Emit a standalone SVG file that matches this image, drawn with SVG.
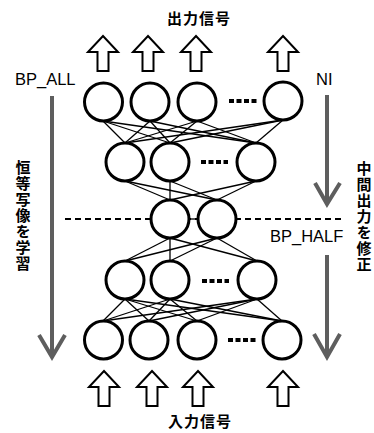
<svg xmlns="http://www.w3.org/2000/svg" xmlns:xlink="http://www.w3.org/1999/xlink" width="374" height="433" viewBox="0 0 374 433">
  <style>
    .node { fill: #fff; stroke: #000; stroke-width: 3; }
    .link { stroke: #000; stroke-width: 1.3; fill: none; }
    .dots { stroke: #000; stroke-width: 4; stroke-dasharray: 5 2.5; fill: none; }
    .io { fill: #fff; stroke: #000; stroke-width: 2; stroke-linejoin: miter; }
    .flow { stroke: #5e5e5e; stroke-width: 4; fill: none; }
    .half { stroke: #000; stroke-width: 2; stroke-dasharray: 6 4; fill: none; }
    .lbl { font-family: "Liberation Sans", Arial, sans-serif; font-size: 16.5px; fill: #000; }
    .jp { font-family: "Noto Sans CJK JP", sans-serif; font-weight: bold; font-size: 15px; fill: #000; }
    .vjp { font-family: "Noto Sans CJK JP", sans-serif; font-weight: bold; font-size: 15px; fill: #000; writing-mode: vertical-rl; letter-spacing: 1px; }
  </style>
  <defs>
    <!-- hollow block arrow, tip at origin, pointing up -->
    <path id="blk" class="io" d="M0,0 L15,16 L5.5,16 L5.5,35 L-5.5,35 L-5.5,16 L-15,16 Z"/>
  </defs>

  <rect width="374" height="433" fill="#fff"/>

  <!-- connectors -->
  <g id="connectors">
    <!-- output layer to upper hidden layer -->
    <g class="link">
      <line x1="103" y1="121" x2="125" y2="143"/>
      <line x1="103" y1="121" x2="170" y2="143"/>
      <line x1="103" y1="121" x2="256" y2="143"/>
      <line x1="150" y1="121" x2="125" y2="143"/>
      <line x1="150" y1="121" x2="170" y2="143"/>
      <line x1="150" y1="121" x2="256" y2="143"/>
      <line x1="197" y1="121" x2="125" y2="143"/>
      <line x1="197" y1="121" x2="170" y2="143"/>
      <line x1="197" y1="121" x2="256" y2="143"/>
      <line x1="283" y1="120" x2="125" y2="143"/>
      <line x1="283" y1="120" x2="170" y2="143"/>
      <line x1="283" y1="120" x2="256" y2="143"/>
      <!-- upper hidden layer to bottleneck -->
      <line x1="125" y1="181" x2="170" y2="200"/>
      <line x1="125" y1="181" x2="217" y2="200"/>
      <line x1="170" y1="181" x2="170" y2="200"/>
      <line x1="170" y1="181" x2="217" y2="200"/>
      <line x1="256" y1="181" x2="170" y2="200"/>
      <line x1="256" y1="181" x2="217" y2="200"/>
      <!-- bottleneck to lower hidden layer -->
      <line x1="170" y1="238" x2="125" y2="261"/>
      <line x1="170" y1="238" x2="170" y2="261"/>
      <line x1="170" y1="238" x2="257" y2="261"/>
      <line x1="217" y1="238" x2="125" y2="261"/>
      <line x1="217" y1="238" x2="170" y2="261"/>
      <line x1="217" y1="238" x2="257" y2="261"/>
      <!-- lower hidden layer to input layer -->
      <line x1="125" y1="299" x2="103" y2="321"/>
      <line x1="125" y1="299" x2="149" y2="321"/>
      <line x1="125" y1="299" x2="197" y2="321"/>
      <line x1="125" y1="299" x2="282" y2="321"/>
      <line x1="170" y1="299" x2="103" y2="321"/>
      <line x1="170" y1="299" x2="149" y2="321"/>
      <line x1="170" y1="299" x2="197" y2="321"/>
      <line x1="170" y1="299" x2="282" y2="321"/>
      <line x1="257" y1="299" x2="103" y2="321"/>
      <line x1="257" y1="299" x2="149" y2="321"/>
      <line x1="257" y1="299" x2="197" y2="321"/>
      <line x1="257" y1="299" x2="282" y2="321"/>
    </g>
    <!-- split line through the bottleneck -->
    <line class="half" x1="65" y1="219" x2="341" y2="219"/>
    <line class="link" x1="190" y1="219" x2="198" y2="219" stroke-width="2"/>

    <!-- learning flow arrows -->
    <g class="flow">
      <line x1="52" y1="96" x2="52" y2="356"/>
      <polyline points="39,335 52,357 65,335"/>
      <line x1="327" y1="95" x2="327" y2="203"/>
      <polyline points="315,183 327,204 340,183"/>
      <line x1="327" y1="255" x2="327" y2="356"/>
      <polyline points="314,334 327,357 340,334"/>
    </g>

    <!-- output signal arrows -->
    <use xlink:href="#blk" x="103" y="36"/>
    <use xlink:href="#blk" x="148" y="36"/>
    <use xlink:href="#blk" x="196" y="36"/>
    <use xlink:href="#blk" x="283" y="36"/>
    <!-- input signal arrows -->
    <use xlink:href="#blk" x="104" y="371"/>
    <use xlink:href="#blk" x="152" y="371"/>
    <use xlink:href="#blk" x="198" y="371"/>
    <use xlink:href="#blk" x="283" y="371"/>
  </g>

  <!-- output layer -->
  <g id="layer-out">
    <circle class="node" cx="103.5" cy="102" r="19"/>
    <circle class="node" cx="150" cy="102" r="19"/>
    <circle class="node" cx="197" cy="102" r="19"/>
    <line class="dots" x1="229" y1="101" x2="257" y2="101"/>
    <circle class="node" cx="283" cy="101" r="19"/>
  </g>

  <!-- upper hidden layer -->
  <g id="layer-h1">
    <circle class="node" cx="125" cy="162" r="19"/>
    <circle class="node" cx="170" cy="162" r="19"/>
    <line class="dots" x1="201" y1="162" x2="228" y2="162"/>
    <circle class="node" cx="256" cy="162" r="19"/>
  </g>

  <!-- bottleneck layer -->
  <g id="layer-mid">
    <circle class="node" cx="170" cy="219" r="19"/>
    <circle class="node" cx="217" cy="219" r="19"/>
  </g>

  <!-- lower hidden layer -->
  <g id="layer-h2">
    <circle class="node" cx="125" cy="280" r="19"/>
    <circle class="node" cx="170" cy="280" r="19"/>
    <line class="dots" x1="202" y1="281" x2="229" y2="281"/>
    <circle class="node" cx="257" cy="280" r="19"/>
  </g>

  <!-- input layer -->
  <g id="layer-in">
    <circle class="node" cx="103.5" cy="340" r="19"/>
    <circle class="node" cx="149" cy="340" r="19"/>
    <circle class="node" cx="197" cy="340" r="19"/>
    <line class="dots" x1="228" y1="340" x2="256" y2="340"/>
    <circle class="node" cx="282" cy="340" r="19"/>
  </g>

  <!-- labels -->
  <g id="labels">
    <text class="jp" x="199" y="24" text-anchor="middle" letter-spacing="1">出力信号</text>
    <text class="jp" x="200" y="427" text-anchor="middle" letter-spacing="1">入力信号</text>
    <text class="lbl" x="15" y="85">BP_ALL</text>
    <text class="lbl" x="316" y="85">NI</text>
    <text class="lbl" x="270" y="242">BP_HALF</text>
    <text class="vjp" x="23" y="160">恒等写像を学習</text>
    <text class="vjp" x="364" y="161">中間出力を修正</text>
  </g>
</svg>
